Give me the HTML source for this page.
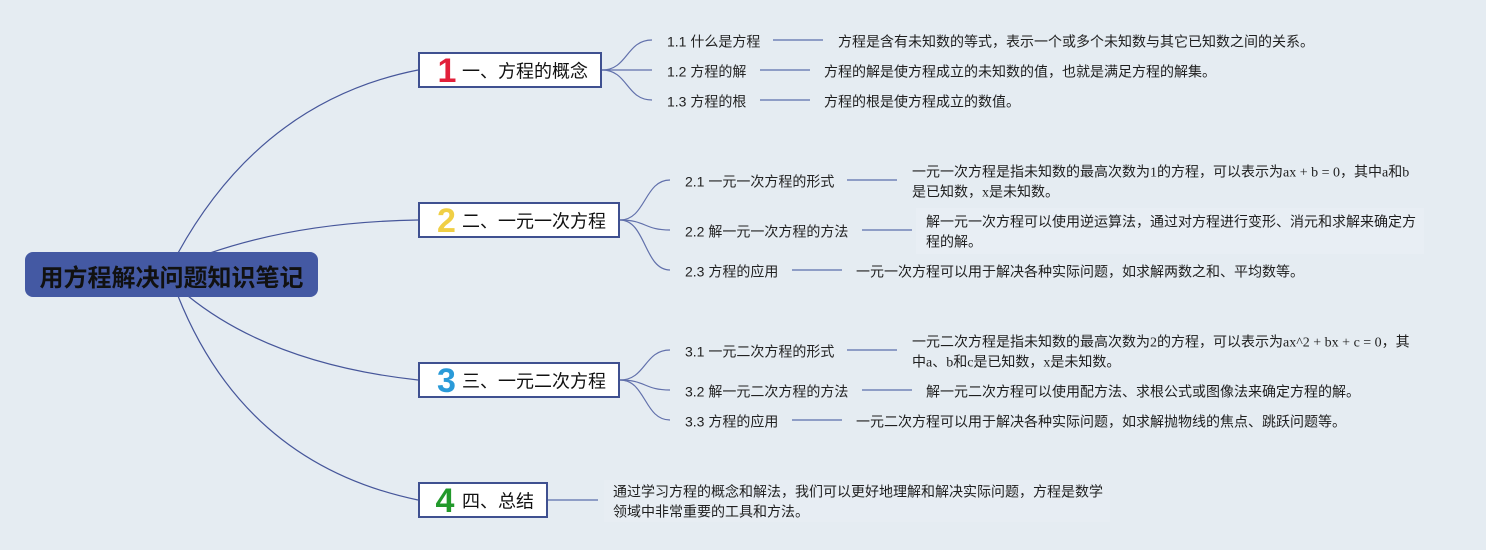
<!DOCTYPE html>
<html>
<head>
<meta charset="utf-8">
<style>
  html,body{margin:0;padding:0;background:#e5ecf2;}
  svg{display:block;}
  .lbl{font-family:"Liberation Sans","Noto Sans CJK SC",sans-serif;font-size:14px;fill:#222;}
  .desc{font-family:"Liberation Serif","Noto Sans CJK SC",sans-serif;font-size:14px;fill:#1e1e1e;}
  .ttl{font-family:"Liberation Sans","Noto Sans CJK SC",sans-serif;font-size:18px;fill:#111;}
  .num{font-family:"Liberation Sans","DejaVu Sans",sans-serif;font-size:34px;font-weight:bold;}
  .main{fill:none;stroke:#46569a;stroke-width:1.2;}
  .sub{fill:none;stroke:#6170ab;stroke-width:1.2;}
  .short{stroke:#8e9dc6;stroke-width:2;}
</style>
</head>
<body>
<svg width="1486" height="550" viewBox="0 0 1486 550" xmlns="http://www.w3.org/2000/svg">
  <rect x="0" y="0" width="1486" height="550" fill="#e5ecf2"/>
  <!-- faint highlight boxes -->
  <rect x="916" y="208" width="508" height="46" fill="#e8eef4"/>
  <rect x="604" y="480" width="506" height="42" fill="#e7edf3"/>

  <!-- main curves -->
  <path class="main" d="M178,253 Q262,101 418,70"/>
  <path class="main" d="M210,253 Q300,222 418,220"/>
  <path class="main" d="M188,296 Q272,364 418,380"/>
  <path class="main" d="M178,296 Q245,464 418,500"/>

  <!-- root -->
  <rect x="25" y="252" width="293" height="45" rx="8" ry="8" fill="#4459a3"/>
  <text x="171.5" y="286" text-anchor="middle" style="font-family:'Liberation Sans','Noto Sans CJK SC',sans-serif;font-size:24px;font-weight:bold;fill:#111;">用方程解决问题知识笔记</text>

  <!-- node boxes -->
  <rect x="419" y="53" width="182" height="34" fill="#ffffff" stroke="#3f5090" stroke-width="2"/>
  <rect x="419" y="203" width="200" height="34" fill="#ffffff" stroke="#3f5090" stroke-width="2"/>
  <rect x="419" y="363" width="200" height="34" fill="#ffffff" stroke="#3f5090" stroke-width="2"/>
  <rect x="419" y="483" width="128" height="34" fill="#ffffff" stroke="#3f5090" stroke-width="2"/>

  <text class="num" x="447" y="82" text-anchor="middle" fill="#e2203a">1</text>
  <text class="num" x="446.5" y="232" text-anchor="middle" fill="#f0cf45">2</text>
  <text class="num" x="446.5" y="392" text-anchor="middle" fill="#2a9ad8">3</text>
  <text class="num" x="445" y="512" text-anchor="middle" fill="#22992b">4</text>

  <text class="ttl" x="462" y="77.5">一、方程的概念</text>
  <text class="ttl" x="462" y="227.5">二、一元一次方程</text>
  <text class="ttl" x="462" y="387.5">三、一元二次方程</text>
  <text class="ttl" x="462" y="507.5">四、总结</text>

  <!-- sub curves node 1 -->
  <path class="sub" d="M602,70 C628,70 626,40 652,40"/>
  <path class="sub" d="M602,70 L652,70"/>
  <path class="sub" d="M602,70 C628,70 626,100 652,100"/>
  <!-- node 2 -->
  <path class="sub" d="M620,220 C646,220 644,180 670,180"/>
  <path class="sub" d="M620,220 C646,220 644,230 670,230"/>
  <path class="sub" d="M620,220 C646,220 644,270 670,270"/>
  <!-- node 3 -->
  <path class="sub" d="M620,380 C646,380 644,350 670,350"/>
  <path class="sub" d="M620,380 C646,380 644,390 670,390"/>
  <path class="sub" d="M620,380 C646,380 644,420 670,420"/>

  <!-- short lines -->
  <line class="short" x1="773" y1="40" x2="823" y2="40"/>
  <line class="short" x1="760" y1="70" x2="810" y2="70"/>
  <line class="short" x1="760" y1="100" x2="810" y2="100"/>
  <line class="short" x1="847" y1="180" x2="897" y2="180"/>
  <line class="short" x1="862" y1="230" x2="912" y2="230"/>
  <line class="short" x1="792" y1="270" x2="842" y2="270"/>
  <line class="short" x1="847" y1="350" x2="897" y2="350"/>
  <line class="short" x1="862" y1="390" x2="912" y2="390"/>
  <line class="short" x1="792" y1="420" x2="842" y2="420"/>
  <line class="short" x1="548" y1="500" x2="598" y2="500"/>

  <!-- labels -->
  <text class="lbl" x="667" y="46.5">1.1 什么是方程</text>
  <text class="lbl" x="667" y="76.5">1.2 方程的解</text>
  <text class="lbl" x="667" y="106.5">1.3 方程的根</text>
  <text class="lbl" x="685" y="186.5">2.1 一元一次方程的形式</text>
  <text class="lbl" x="685" y="236.5">2.2 解一元一次方程的方法</text>
  <text class="lbl" x="685" y="276.5">2.3 方程的应用</text>
  <text class="lbl" x="685" y="356.5">3.1 一元二次方程的形式</text>
  <text class="lbl" x="685" y="396.5">3.2 解一元二次方程的方法</text>
  <text class="lbl" x="685" y="426.5">3.3 方程的应用</text>

  <!-- descriptions -->
  <text class="desc" x="838" y="46.5">方程是含有未知数的等式，表示一个或多个未知数与其它已知数之间的关系。</text>
  <text class="desc" x="824" y="76.5">方程的解是使方程成立的未知数的值，也就是满足方程的解集。</text>
  <text class="desc" x="824" y="106.5">方程的根是使方程成立的数值。</text>

  <text class="desc" x="912" y="176.5">一元一次方程是指未知数的最高次数为1的方程，可以表示为ax + b = 0，其中a和b</text>
  <text class="desc" x="912" y="196.5">是已知数，x是未知数。</text>
  <text class="desc" x="926" y="226.5">解一元一次方程可以使用逆运算法，通过对方程进行变形、消元和求解来确定方</text>
  <text class="desc" x="926" y="246.5">程的解。</text>
  <text class="desc" x="856" y="276.5">一元一次方程可以用于解决各种实际问题，如求解两数之和、平均数等。</text>

  <text class="desc" x="912" y="346.5">一元二次方程是指未知数的最高次数为2的方程，可以表示为ax^2 + bx + c = 0，其</text>
  <text class="desc" x="912" y="366.5">中a、b和c是已知数，x是未知数。</text>
  <text class="desc" x="926" y="396.5">解一元二次方程可以使用配方法、求根公式或图像法来确定方程的解。</text>
  <text class="desc" x="856" y="426.5">一元二次方程可以用于解决各种实际问题，如求解抛物线的焦点、跳跃问题等。</text>

  <text class="desc" x="613" y="496.5">通过学习方程的概念和解法，我们可以更好地理解和解决实际问题，方程是数学</text>
  <text class="desc" x="613" y="516.5">领域中非常重要的工具和方法。</text>
</svg>
</body>
</html>
